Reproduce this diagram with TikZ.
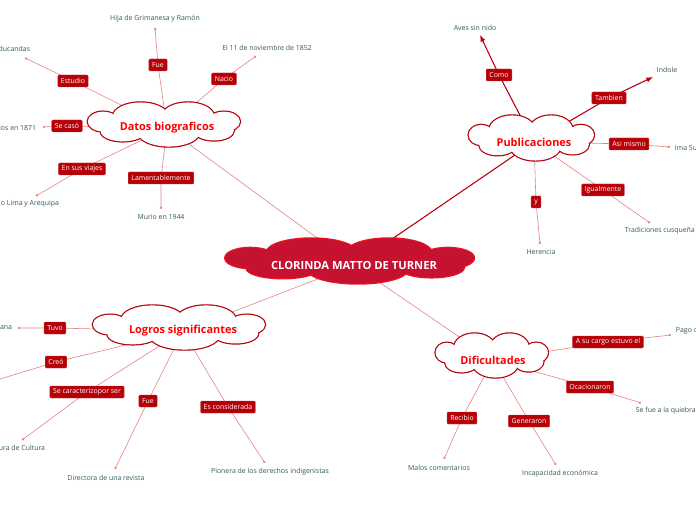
\documentclass[tikz,border=0pt]{standalone}
\usepackage{fontspec}
\setmainfont{Open Sans}
\usetikzlibrary{arrows.meta,backgrounds}

\definecolor{rootfill}{RGB}{196,18,48}
\definecolor{rootline}{RGB}{235,20,30}
\definecolor{cloudline}{RGB}{178,0,10}
\definecolor{titlered}{RGB}{255,0,0}
\definecolor{tagred}{RGB}{182,0,8}
\definecolor{leafcol}{RGB}{50,88,88}
\definecolor{linepink}{RGB}{230,130,130}
\definecolor{darkline}{RGB}{180,0,12}

% puffs of a cloud, in units of its half width / half height: x/y/xradius/yradius
\def\cloudpuffs{-0.79/-0.13/0.20/0.44, -0.30/-0.36/0.36/0.62, 0.32/-0.36/0.34/0.62,
  0.79/-0.13/0.21/0.44, 0.66/0.27/0.26/0.44, 0.07/0.36/0.40/0.62, -0.53/0.31/0.29/0.44}
% #1 outline, #2 fill, #3 centre, #4 half width, #5 half height
\newcommand{\puffcloud}[5]{%
  \begin{scope}[shift={#3}, xscale=#4, yscale=#5]
    \foreach \px/\py/\rx/\ry in \cloudpuffs
      \draw[draw=#1, line width=1.8pt] (\px,\py) ellipse [x radius=\rx, y radius=\ry];
    \foreach \px/\py/\rx/\ry in \cloudpuffs
      \fill[#2] (\px,\py) ellipse [x radius=\rx, y radius=\ry];
    \fill[#2] (0,0) ellipse [x radius=0.72, y radius=0.53];
  \end{scope}}

\tikzset{
  title/.style={text=titlered, inner sep=1pt, font=\fontsize{8.2}{10}\selectfont\bfseries},
  roottitle/.style={text=white, inner sep=1pt, font=\fontsize{8.4}{10}\selectfont\bfseries},
  tag/.style={fill=tagred, draw=tagred!80!white, line width=0.3pt, rounded corners=0.8pt,
    text=white, inner xsep=2.4pt, inner ysep=0pt, minimum height=9pt,
    font=\fontsize{5.2}{6}\selectfont},
  leaf/.style={text=leafcol, inner sep=0.5pt, font=\fontsize{5.2}{6}\selectfont},
  link/.style={draw=linepink, line width=0.45pt},
  branch/.style={link, -{Circle[length=1.8pt]}},
  sidebranch/.style={link, -{Latex[length=2.4pt,width=2pt]}},
  strong/.style={draw=darkline, line width=0.8pt},
  strongbranch/.style={strong, -{Latex[length=5pt,width=4pt]}},
}

\begin{document}
\begin{tikzpicture}[x=0.75pt,y=0.75pt,yscale=-1]
\useasboundingbox (0,0) rectangle (696,520);

% Clouds
\puffcloud{rootline}{rootfill}{(349,261)}{125}{23}
\puffcloud{cloudline}{white}{(163.5,124.5)}{76.5}{22.5}
\puffcloud{cloudline}{white}{(531,138)}{63}{23}
\puffcloud{cloudline}{white}{(178.5,327.5)}{86.5}{22.5}
\puffcloud{cloudline}{white}{(491.5,355.5)}{56.5}{22.5}

\node[roottitle] (root) at (354,265) {CLORINDA MATTO DE TURNER};
\node[title] (datos) at (167,128) {Datos biograficos};
\node[title] (pub) at (534,142) {Publicaciones};
\node[title] (logros) at (183,331) {Logros significantes};
\node[title] (dif) at (493,360) {Dificultades};

% Datos biograficos
\node[tag] (t-fue1) at (158,65) {Fue};
\node[leaf] (hija) at (155,19) {Hija de Grimanesa y Ramón};
\coordinate (e-hija) at (155,28);
\node[tag] (t-nacio) at (224,79) {Nacio};
\node[leaf] (nov) at (267,48) {El 11 de noviembre de 1852};
\coordinate (e-nov) at (256,56);
\node[tag] (t-estudio) at (73,81) {Estudio};
\node[leaf, anchor=east] (educ) at (31,49) {ducandas};
\coordinate (e-educ) at (25,58);
\node[tag] (t-caso) at (67,126) {Se casó};
\node[leaf, anchor=east] (casado) at (37,128) {ios en 1871};
\coordinate (e-casado) at (42,127);
\node[tag] (t-viajes) at (82,169) {En sus viajes};
\node[leaf, anchor=east] (lima) at (60,204) {o Lima y Arequipa};
\coordinate (e-lima) at (36,196);
\node[tag] (t-lament) at (161,178) {Lamentablemente};
\node[leaf] (murio) at (161,217) {Murio en 1944};
\coordinate (e-murio) at (161,209);

% Publicaciones
\node[tag] (t-como) at (499,75) {Como};
\node[leaf] (aves) at (475,28) {Aves sin nido};
\coordinate (e-aves) at (480,35);
\node[tag] (t-tambien) at (609,98) {Tambien};
\node[leaf] (indole) at (667,70) {Indole};
\coordinate (e-indole) at (653,77);
\node[tag] (t-asi) at (629,144) {Asi mismo};
\node[leaf, anchor=west] (ima) at (674,148) {Ima Su};
\coordinate (e-ima) at (670,147);
\node[tag] (t-igual) at (603,190) {Igualmente};
\node[leaf, anchor=west] (trad) at (624,231) {Tradiciones cusqueña};
\coordinate (e-trad) at (650,223);
\node[tag] (t-y) at (536,202) {y};
\node[leaf] (herencia) at (541,252) {Herencia};
\coordinate (e-herencia) at (540,244);

% Logros significantes
\node[tag] (t-tuvo) at (55,328) {Tuvo};
\node[leaf, anchor=east] (tuvo) at (13,328) {ana};
\coordinate (e-tuvo) at (17,328);
\node[tag] (t-creo) at (56,362) {Creó};
\coordinate (e-creo) at (0,379);
\node[tag] (t-carac) at (87,392) {Se caracterizopor ser};
\node[leaf, anchor=east] (cultura) at (46,448) {ura de Cultura};
\coordinate (e-cultura) at (22,440);
\node[tag] (t-fue2) at (148,401) {Fue};
\node[leaf] (revista) at (106,478) {Directora de una revista};
\coordinate (e-revista) at (115,469);
\node[tag] (t-consid) at (228,407) {Es considerada};
\node[leaf] (pionera) at (270,472) {Pionera de los derechos indigenistas};
\coordinate (e-pionera) at (265,463);

% Dificultades
\node[tag] (t-cargo) at (608,342) {A su cargo estuvo el};
\node[leaf, anchor=west] (pago) at (675,331) {Pago d};
\coordinate (e-pago) at (671,335);
\node[tag] (t-ocac) at (590,387) {Ocacionaron};
\node[leaf, anchor=west] (quiebra) at (635,411) {Se fue a la quiebra};
\coordinate (e-quiebra) at (641,403);
\node[tag] (t-recibio) at (462,418) {Recibio};
\node[leaf] (malos) at (439,468) {Malos comentarios};
\coordinate (e-malos) at (444,459);
\node[tag] (t-gener) at (529,421) {Generaron};
\node[leaf] (incap) at (560,474) {Incapacidad económica};
\coordinate (e-incap) at (556,465);

\begin{scope}[on background layer]
% main branches
\draw[link] (root) -- (datos);
\draw[strong] (root) -- (pub);
\draw[link] (root) -- (logros);
\draw[link] (root) -- (dif);
% Datos biograficos
\draw[branch] (datos) -- (t-fue1.center) -- (e-hija);
\draw[branch] (datos) -- (t-nacio.center) -- (e-nov);
\draw[branch] (datos) -- (t-estudio.center) -- (e-educ);
\draw[sidebranch] (datos) -- (t-caso.center) -- (e-casado);
\draw[branch] (datos) -- (t-viajes.center) -- (e-lima);
\draw[branch] (datos) -- (t-lament.center) -- (e-murio);
% Publicaciones
\draw[strongbranch] (pub) -- (t-como.center) -- (e-aves);
\draw[strongbranch] (pub) -- (t-tambien.center) -- (e-indole);
\draw[branch] (pub) -- (t-asi.center) -- (e-ima);
\draw[branch] (pub) -- (t-igual.center) -- (e-trad);
\draw[branch] (pub) -- (t-y.center) -- (e-herencia);
% Logros significantes
\draw[sidebranch] (logros) -- (t-tuvo.center) -- (e-tuvo);
\draw[link] (logros) -- (t-creo.center) -- (e-creo);
\draw[branch] (logros) -- (t-carac.center) -- (e-cultura);
\draw[branch] (logros) -- (t-fue2.center) -- (e-revista);
\draw[branch] (logros) -- (t-consid.center) -- (e-pionera);
% Dificultades
\draw[branch] (dif) -- (t-cargo.center) -- (e-pago);
\draw[branch] (dif) -- (t-ocac.center) -- (e-quiebra);
\draw[branch] (dif) -- (t-recibio.center) -- (e-malos);
\draw[branch] (dif) -- (t-gener.center) -- (e-incap);
\end{scope}

\end{tikzpicture}
\end{document}
